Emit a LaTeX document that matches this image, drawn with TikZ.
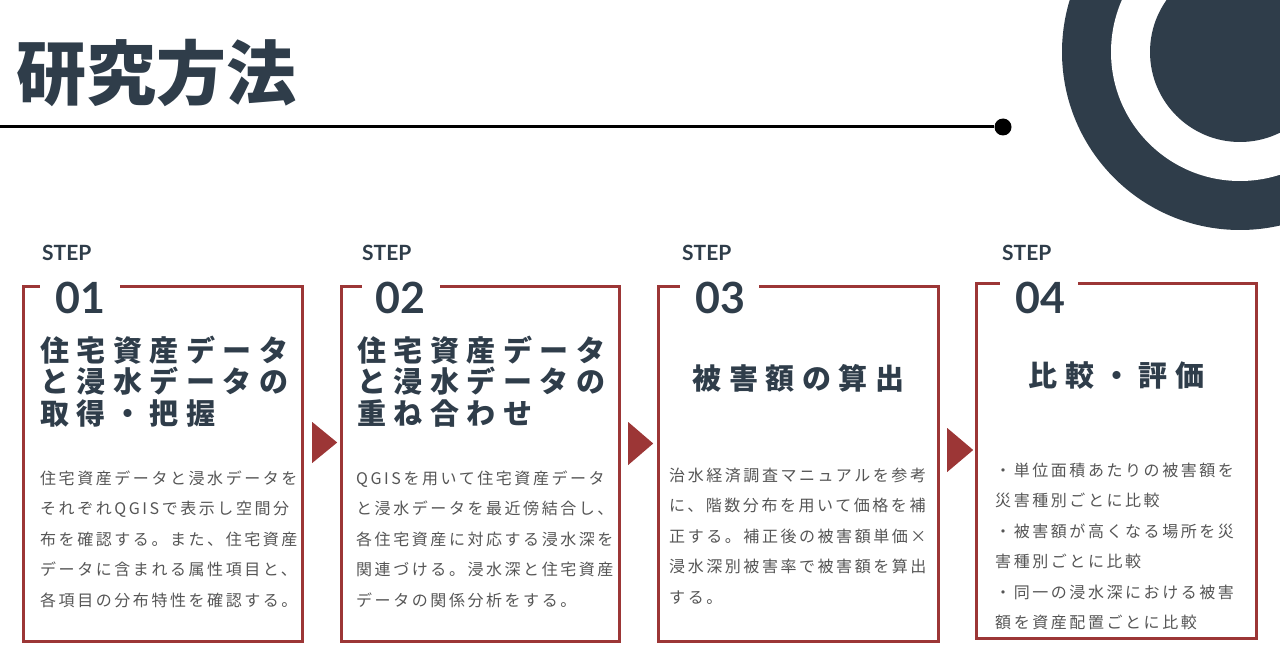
\documentclass[tikz,border=0pt]{standalone}
\usepackage{fontspec}
\setmainfont{Noto Sans}
\newfontfamily\jpfont{Noto Sans CJK JP}
\newfontfamily\numfont{Lato}
\definecolor{navy}{HTML}{2F3D4A}
\definecolor{brick}{HTML}{9C3636}
\definecolor{bodygray}{HTML}{555555}
\newcommand{\topstrut}{\rule{0pt}{0.9em}}

\tikzset{
  frame/.style={draw=brick, line width=3pt},
  boxarea/.style={minimum width=#1, minimum height=354pt, inner sep=0pt},
  steplabel/.style={anchor=base west, inner sep=0pt, text=navy, font=\numfont\bfseries\fontsize{21}{21}\selectfont},
  stepnum/.style={anchor=base west, inner sep=0pt, text=navy, font=\numfont\bfseries\fontsize{43}{43}\selectfont},
  boxtitle/.style={inner sep=0pt, align=left, text=navy,
    font={\jpfont\bfseries\addfontfeatures{LetterSpace=26}\fontsize{29}{31.5}\selectfont}},
  boxbody/.style={anchor=north west, inner sep=0pt, align=left, text=bodygray,
    font={\jpfont\addfontfeatures{LetterSpace=#1}\fontsize{16}{30.5}\selectfont}},
  boxbody/.default=16
}

\begin{document}
\begin{tikzpicture}[x=1pt, y=-1pt, >=stealth]
  \useasboundingbox (0,0) rectangle (1280,663);

  % Decorative rings
  \begin{scope}
    \clip (0,0) rectangle (1280,663);
    \fill[navy] (1240,52) circle (178);
    \fill[white] (1240,52) circle (129);
    \fill[navy] (1240,52) circle (90);
  \end{scope}

  % Heading and rule
  \node[anchor=base west, inner sep=0pt, text=navy,
    font=\jpfont\bfseries\fontsize{70}{70}\selectfont] (title) at (16,100) {研究方法};
  \coordinate (rulestart) at (0,127);
  \node[circle, fill=black, inner sep=0pt, minimum size=17pt] (ruledot) at (1003,127) {};
  \draw[line width=3pt] (rulestart) -- (ruledot);

  % Step 01
  \node[boxarea=278pt] (box1) at (163,464) {};
  \draw[frame] ([xshift=16pt]box1.north west) -- (box1.north west) -- (box1.south west)
    -- (box1.south east) -- (box1.north east) -- ([xshift=96pt]box1.north west);
  \node[steplabel] (step1) at (42,261) {STEP};
  \node[stepnum] (num1) at (55,313) {01};
  \node[boxtitle, anchor=north west] (head1) at (40,334.9)
    {\topstrut 住宅資産データ\\と浸水データの\\取得・把握};
  \node[boxbody] (text1) at (40,469.6)
    {\topstrut 住宅資産データと浸水データを\\それぞれQGISで表示し空間分\\布を確認する。また、住宅資産\\データに含まれる属性項目と、\\各項目の分布特性を確認する。};

  % Step 02
  \node[boxarea=277pt] (box2) at (480.5,464) {};
  \draw[frame] ([xshift=20pt]box2.north west) -- (box2.north west) -- (box2.south west)
    -- (box2.south east) -- (box2.north east) -- ([xshift=98pt]box2.north west);
  \node[steplabel] (step2) at (362,261) {STEP};
  \node[stepnum] (num2) at (375,313) {02};
  \node[boxtitle, anchor=north west] (head2) at (357,334.9)
    {\topstrut 住宅資産データ\\と浸水データの\\重ね合わせ};
  \node[boxbody] (text2) at (356,469.6)
    {\topstrut QGISを用いて住宅資産データ\\と浸水データを最近傍結合し、\\各住宅資産に対応する浸水深を\\関連づける。浸水深と住宅資産\\データの関係分析をする。};

  % Step 03
  \node[boxarea=279pt] (box3) at (798.5,464) {};
  \draw[frame] ([xshift=21pt]box3.north west) -- (box3.north west) -- (box3.south west)
    -- (box3.south east) -- (box3.north east) -- ([xshift=100pt]box3.north west);
  \node[steplabel] (step3) at (682,261) {STEP};
  \node[stepnum] (num3) at (695,313) {03};
  \node[boxtitle, anchor=north] (head3) at (798.5,362.9) {\topstrut 被害額の算出};
  \node[boxbody] (text3) at (669,466.6)
    {\topstrut 治水経済調査マニュアルを参考\\に、階数分布を用いて価格を補\\正する。補正後の被害額単価×\\浸水深別被害率で被害額を算出\\する。};

  % Step 04
  \node[boxarea=279pt] (box4) at (1116.5,461) {};
  \draw[frame] ([xshift=23pt]box4.north west) -- (box4.north west) -- (box4.south west)
    -- (box4.south east) -- (box4.north east) -- ([xshift=101pt]box4.north west);
  \node[steplabel] (step4) at (1002,261) {STEP};
  \node[stepnum] (num4) at (1015,313) {04};
  \node[boxtitle, anchor=north] (head4) at (1116.5,359.9) {\topstrut 比較・評価};
  \node[boxbody] (text4) at (995,461.6)
    {\topstrut ・単位面積あたりの被害額を\\災害種別ごとに比較\\・被害額が高くなる場所を災\\害種別ごとに比較\\・同一の浸水深における被害\\額を資産配置ごとに比較};

  % Pointers between steps
  \fill[brick] (box1.east) ++(10,-42) -- ++(25,20.5) -- ++(-25,20.5) -- cycle;
  \fill[brick] (box2.east) ++(9,-42) -- ++(25,21.5) -- ++(-25,21.5) -- cycle;
  \fill[brick] (box3.east) ++(9,-36) -- ++(26,22) -- ++(-26,22) -- cycle;
\end{tikzpicture}
\end{document}
